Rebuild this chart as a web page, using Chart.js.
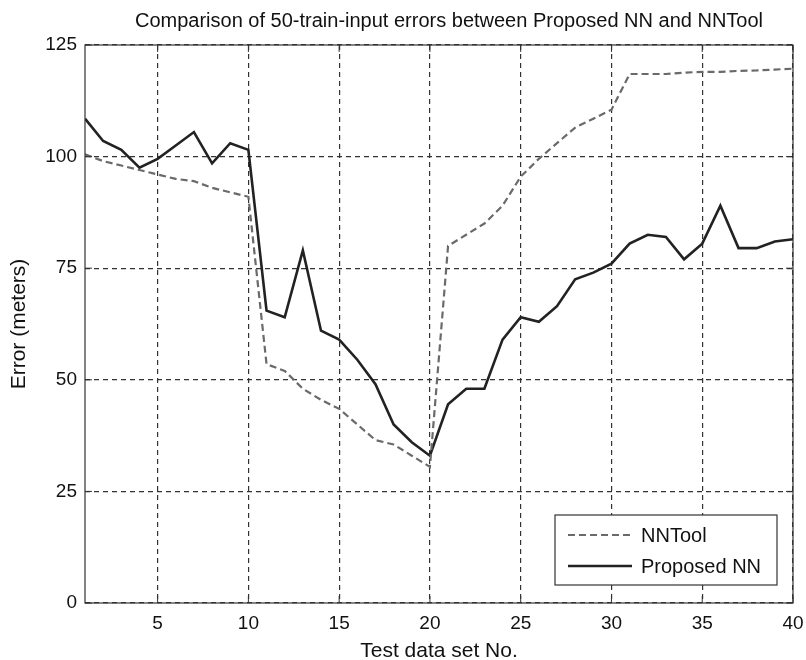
<!DOCTYPE html>
<html>
<head>
<meta charset="utf-8">
<script src="https://cdn.jsdelivr.net/npm/chart.js@4"></script>
<style>
  html, body { margin: 0; padding: 0; background: #fff; }
  #wrap { width: 806px; height: 660px; }
</style>
</head>
<body>
<div id="wrap"><canvas id="chart"></canvas></div>
<script>
var testSet = [1, 2, 3, 4, 5, 6, 7, 8, 9, 10, 11, 12, 13, 14, 15, 16, 17, 18, 19, 20,
               21, 22, 23, 24, 25, 26, 27, 28, 29, 30, 31, 32, 33, 34, 35, 36, 37, 38, 39, 40];
var nntoolErr = [100.5, 99, 98, 97, 96, 95, 94.5, 93, 92, 91,
                 53.5, 52, 48, 45.5, 43.5, 40, 36.5, 35.5, 33, 30.5,
                 80, 82.5, 85, 89, 95.5, 99.5, 103, 106.5, 108.5, 110.5,
                 118.5, 118.5, 118.5, 118.8, 119, 119, 119.2, 119.3, 119.5, 119.7];
var proposedErr = [108.5, 103.5, 101.5, 97.5, 99.5, 102.5, 105.5, 98.5, 103, 101.5,
                   65.5, 64, 79, 61, 59, 54.5, 49, 40, 36, 33,
                   44.5, 48, 48, 59, 64, 63, 66.5, 72.5, 74, 76,
                   80.5, 82.5, 82, 77, 80.5, 89, 79.5, 79.5, 81, 81.5];
var xTicks = [5, 10, 15, 20, 25, 30, 35, 40];
var yTicks = [0, 25, 50, 75, 100, 125];

var FONT = "'Liberation Sans', Arial, sans-serif";
var TITLE = "Comparison of 50-train-input errors between Proposed NN and NNTool";

function toPoints(ys) {
    return testSet.map(function (x, i) { return { x: x, y: ys[i] }; });
}

// frame, inward ticks, title and legend box (matlab look)
var framePlugin = {
    id: "frame",
    afterDraw: function (chart) {
        var ctx = chart.ctx, a = chart.chartArea;
        ctx.save();
        ctx.strokeStyle = "#333";
        ctx.lineWidth = 1.2;
        ctx.setLineDash([]);
        ctx.strokeRect(a.left, a.top, a.right - a.left, a.bottom - a.top);

        ctx.lineWidth = 1;
        var xs = chart.scales.x, ys = chart.scales.y;
        xTicks.forEach(function (t) {
            var px = xs.getPixelForValue(t);
            ctx.beginPath();
            ctx.moveTo(px, a.bottom); ctx.lineTo(px, a.bottom - 7);
            ctx.moveTo(px, a.top); ctx.lineTo(px, a.top + 7);
            ctx.stroke();
        });
        yTicks.forEach(function (t) {
            var py = ys.getPixelForValue(t);
            ctx.beginPath();
            ctx.moveTo(a.left, py); ctx.lineTo(a.left + 7, py);
            ctx.moveTo(a.right, py); ctx.lineTo(a.right - 7, py);
            ctx.stroke();
        });

        // title
        ctx.fillStyle = "#111";
        ctx.font = "20px " + FONT;
        ctx.textAlign = "center";
        ctx.textBaseline = "middle";
        ctx.fillText(TITLE, (a.left + a.right) / 2 + 10, 21);

        // legend
        var bw = 222, bh = 70;
        var bx = a.right - 16 - bw, by = a.bottom - 18 - bh;
        ctx.fillStyle = "#fff";
        ctx.fillRect(bx, by, bw, bh);
        ctx.strokeStyle = "#333";
        ctx.lineWidth = 1.2;
        ctx.strokeRect(bx, by, bw, bh);
        ctx.font = "20px " + FONT;
        ctx.textAlign = "left";
        chart.data.datasets.forEach(function (ds, i) {
            var ry = by + 20 + i * 31;
            ctx.beginPath();
            ctx.strokeStyle = ds.borderColor;
            ctx.lineWidth = ds.borderWidth;
            ctx.setLineDash(ds.borderDash || []);
            ctx.moveTo(bx + 13, ry);
            ctx.lineTo(bx + 77, ry);
            ctx.stroke();
            ctx.setLineDash([]);
            ctx.fillStyle = "#111";
            ctx.fillText(ds.label, bx + 86, ry + 1);
        });
        ctx.restore();
    }
};

new Chart(document.getElementById("chart"), {
    type: "line",
    data: {
        datasets: [
            {
                label: "NNTool",
                data: toPoints(nntoolErr),
                borderColor: "#6a6a6a",
                borderWidth: 2.2,
                borderDash: [7, 4],
                pointRadius: 0,
                fill: false,
                tension: 0,
            },
            {
                label: "Proposed NN",
                data: toPoints(proposedErr),
                borderColor: "#222",
                borderWidth: 2.6,
                pointRadius: 0,
                fill: false,
                tension: 0,
            },
        ],
    },
    plugins: [framePlugin],
    options: {
        responsive: true,
        maintainAspectRatio: false,
        animation: false,
        layout: { autoPadding: false, padding: { right: 13, left: 0, top: 45, bottom: 0 } },
        plugins: {
            legend: { display: false },
            tooltip: { enabled: false },
            title: { display: false },
        },
        scales: {
            x: {
                type: "linear",
                min: 1,
                max: 40,
                afterBuildTicks: function (scale) {
                    scale.ticks = xTicks.map(function (v) { return { value: v }; });
                },
                afterFit: function (scale) {
                    scale.height = 57;
                    scale.paddingLeft = 0;
                    scale.paddingRight = 0;
                },
                grid: {
                    color: "#333",
                    lineWidth: 1.2,
                    drawTicks: false,
                },
                border: { display: false, dash: [5, 4] },
                ticks: {
                    color: "#111",
                    font: { family: FONT, size: 19 },
                    padding: 9,
                    maxRotation: 0,
                },
                title: {
                    display: true,
                    text: "Test data set No.",
                    color: "#111",
                    font: { family: FONT, size: 21 },
                    padding: { top: 7, bottom: -4 },
                },
            },
            y: {
                min: 0,
                max: 125,
                afterBuildTicks: function (scale) {
                    scale.ticks = yTicks.map(function (v) { return { value: v }; });
                },
                afterFit: function (scale) {
                    scale.width = 85;
                    scale.paddingTop = 0;
                    scale.paddingBottom = 0;
                },
                grid: {
                    color: "#333",
                    lineWidth: 1.2,
                    drawTicks: false,
                },
                border: { display: false, dash: [5, 4] },
                ticks: {
                    color: "#111",
                    font: { family: FONT, size: 19 },
                    padding: 8,
                },
                title: {
                    display: true,
                    text: "Error (meters)",
                    color: "#111",
                    font: { family: FONT, size: 21 },
                    padding: { top: 7, bottom: 0 },
                },
            },
        },
    },
});
</script>
</body>
</html>
